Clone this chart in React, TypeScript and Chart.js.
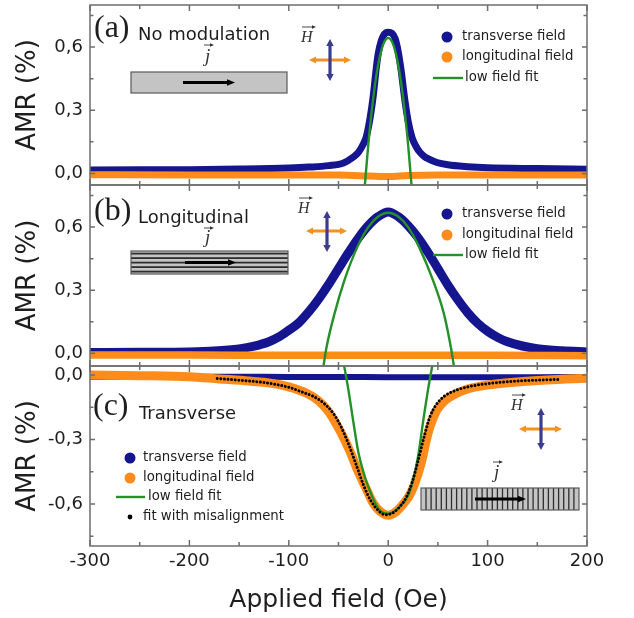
import React, { useEffect, useRef } from "react";
import { Chart, registerables } from "chart.js";
Chart.register(...registerables);

// ---------------- axis ticks / labels ----------------
const fieldTicks = [-300, -250, -200, -150, -100, -50, 0, 50, 100, 150, 200];
const fieldMajor = [-300, -200, -100, 0, 100, 200];
const amrTicksPos = [0, 0.15, 0.3, 0.45, 0.6, 0.75];
const amrLabelsPos = ["0,0", "", "0,3", "", "0,6", ""];
const amrTicksNeg = [-0.75, -0.6, -0.45, -0.3, -0.15, 0];
const amrLabelsNeg = ["", "-0,6", "", "-0,3", "", "0,0"];

// ---------------- (a) No modulation ----------------
const fieldA_T = [-300, -250, -200, -150, -100, -80, -60, -45, -35, -30, -25, -22, -18, -15, -12, -10, -7, -4, 0, 4, 7, 10, 13, 17, 20, 24, 28, 32, 36, 40, 49, 60, 80, 100, 150, 200];
const amrA_T = [0.016, 0.017, 0.018, 0.021, 0.026, 0.03, 0.037, 0.05, 0.078, 0.1, 0.14, 0.175, 0.27, 0.37, 0.5, 0.57, 0.63, 0.66, 0.67, 0.665, 0.64, 0.58, 0.49, 0.34, 0.25, 0.17, 0.128, 0.1, 0.082, 0.07, 0.052, 0.041, 0.032, 0.027, 0.023, 0.02];
const fieldA_L = [-300, -200, -100, -50, -20, 0, 20, 50, 100, 200];
const amrA_L = [-0.006, -0.007, -0.007, -0.008, -0.012, -0.015, -0.01, -0.007, -0.007, -0.007];
const fieldA_fit = [-24, -20, -16, -12, -8, -4, 0, 4, 8, 12, 16, 20, 24];
const amrA_fit = [-0.085, 0.138, 0.32, 0.462, 0.563, 0.624, 0.644, 0.624, 0.563, 0.462, 0.32, 0.138, -0.085];

// ---------------- (b) Longitudinal ----------------
const fieldB_T = [-300, -250, -200, -175, -150, -135, -120, -110, -100, -90, -80, -70, -60, -50, -40, -30, -20, -10, 0, 10, 20, 30, 40, 50, 60, 70, 80, 90, 100, 110, 120, 135, 150, 175, 200];
const amrB_T = [0.004, 0.005, 0.007, 0.011, 0.021, 0.034, 0.055, 0.078, 0.11, 0.145, 0.197, 0.258, 0.327, 0.403, 0.478, 0.548, 0.607, 0.65, 0.672, 0.65, 0.607, 0.55, 0.48, 0.403, 0.325, 0.255, 0.193, 0.143, 0.105, 0.076, 0.055, 0.035, 0.022, 0.012, 0.007];
const fieldB_L = [-300, -200, -100, 0, 100, 200];
const amrB_L = [-0.008, -0.008, -0.009, -0.009, -0.009, -0.011];
const fieldB_fit = [-65, -62, -54, -44, -31, -20, -10, 0, 10, 20, 31, 45, 56, 63, 66];
const amrB_fit = [-0.057, 0.03, 0.189, 0.348, 0.506, 0.6, 0.65, 0.668, 0.65, 0.6, 0.506, 0.348, 0.189, 0.03, -0.057];

// ---------------- (c) Transverse ----------------
const fieldC_T = [-300, -200, -150, -100, -50, 0, 50, 100, 150, 200];
const amrC_T = [-0.008, -0.008, -0.008, -0.009, -0.009, -0.01, -0.01, -0.01, -0.01, -0.009];
const fieldC_L = [-300, -250, -200, -170, -140, -115, -100, -82, -70, -60, -52, -45, -38, -31, -22, -15, -8, 0, 8, 15, 20, 25, 30, 34, 38, 42, 49, 58, 69, 80, 99, 130, 160, 200];
const amrC_L = [0.0, -0.003, -0.008, -0.018, -0.028, -0.04, -0.055, -0.085, -0.12, -0.17, -0.23, -0.29, -0.36, -0.44, -0.53, -0.597, -0.635, -0.652, -0.635, -0.6, -0.57, -0.525, -0.46, -0.395, -0.31, -0.24, -0.163, -0.115, -0.085, -0.065, -0.047, -0.032, -0.023, -0.015];
const fieldC_fit = [-45, -40, -35, -30, -25, -20, -10, 0, 10, 20, 25, 30, 35, 40, 45];
const amrC_fit = [0.06, -0.07, -0.22, -0.36, -0.45, -0.52, -0.62, -0.645, -0.62, -0.56, -0.49, -0.38, -0.22, -0.07, 0.06];
const fieldC_mis = [-172, -150, -130, -115, -100, -85, -75, -65, -55, -48, -40, -32, -25, -18, -10, -3, 5, 12, 18, 24, 30, 36, 42, 48, 56, 66, 80, 100, 130, 173];
const amrC_mis = [-0.016, -0.024, -0.032, -0.042, -0.057, -0.082, -0.1, -0.13, -0.18, -0.235, -0.32, -0.42, -0.51, -0.58, -0.63, -0.65, -0.64, -0.61, -0.57, -0.5, -0.4, -0.29, -0.194, -0.14, -0.1, -0.075, -0.055, -0.04, -0.028, -0.02];

// ---------------- styles ----------------
const W = 634;
const H = 618;
const PLOT_RIGHT = 587;
const BLUE = "#15158f";
const ORANGE = "#ff8c1a";
const GREEN = "#239028";
const ARROW_BLUE = "#3c3c8e";
const ARROW_ORANGE = "#f5921e";
const FRAME = "#6e6e6e";
const TEXT = "#1e1e1e";
const SANS = '"DejaVu Sans"';

const pts = (xs: number[], ys: number[]) => xs.map((x, i) => ({ x, y: ys[i] }));

function band(label: string, xs: number[], ys: number[], color: string, width: number) {
  return {
    label,
    data: pts(xs, ys),
    borderColor: color,
    backgroundColor: color,
    borderWidth: width,
    pointRadius: 0,
    fill: false,
    cubicInterpolationMode: "monotone",
    borderCapStyle: "round",
    borderJoinStyle: "round",
  };
}
function fitLine(label: string, xs: number[], ys: number[]) {
  return { ...band(label, xs, ys, GREEN, 2.4), borderCapStyle: "butt" };
}
function dotted(label: string, xs: number[], ys: number[]) {
  return { ...band(label, xs, ys, "#000", 3), borderDash: [0.01, 3.6], borderCapStyle: "round" };
}

// ---------------- drawing helpers ----------------
function arrowHead(ctx: CanvasRenderingContext2D, x: number, y: number, ang: number, len: number, wid: number) {
  ctx.beginPath();
  ctx.moveTo(x, y);
  ctx.lineTo(x - len * Math.cos(ang) + (wid / 2) * Math.sin(ang), y - len * Math.sin(ang) - (wid / 2) * Math.cos(ang));
  ctx.lineTo(x - len * Math.cos(ang) - (wid / 2) * Math.sin(ang), y - len * Math.sin(ang) + (wid / 2) * Math.cos(ang));
  ctx.closePath();
  ctx.fill();
}
function arrow(ctx: CanvasRenderingContext2D, x1: number, y1: number, x2: number, y2: number, color: string, lw: number, hl: number, hw: number, both: boolean) {
  const ang = Math.atan2(y2 - y1, x2 - x1);
  ctx.save();
  ctx.strokeStyle = color;
  ctx.fillStyle = color;
  ctx.lineWidth = lw;
  ctx.lineCap = "butt";
  const c = Math.cos(ang), s = Math.sin(ang);
  const sx = both ? x1 + c * hl * 0.7 : x1;
  const sy = both ? y1 + s * hl * 0.7 : y1;
  ctx.beginPath();
  ctx.moveTo(sx, sy);
  ctx.lineTo(x2 - c * hl * 0.7, y2 - s * hl * 0.7);
  ctx.stroke();
  arrowHead(ctx, x2, y2, ang, hl, hw);
  if (both) arrowHead(ctx, x1, y1, ang + Math.PI, hl, hw);
  ctx.restore();
}
function vecSymbol(ctx: CanvasRenderingContext2D, ch: string, x: number, baseline: number, size: number, ax1: number, ax2: number, ay: number) {
  ctx.save();
  ctx.font = `italic ${size}px "Liberation Serif"`;
  ctx.fillStyle = "#333";
  ctx.textAlign = "left";
  ctx.textBaseline = "alphabetic";
  ctx.fillText(ch, x, baseline);
  ctx.strokeStyle = "#333";
  ctx.lineWidth = 0.9;
  ctx.beginPath();
  ctx.moveTo(ax1, ay);
  ctx.lineTo(ax2 - 2, ay);
  ctx.stroke();
  ctx.fillStyle = "#333";
  arrowHead(ctx, ax2, ay, 0, 4, 3.4);
  ctx.restore();
}
function cross(ctx: CanvasRenderingContext2D, hx1: number, hx2: number, hy: number, vx: number, vy1: number, vy2: number) {
  arrow(ctx, hx1, hy, hx2, hy, ARROW_ORANGE, 2.8, 7, 7, true);
  arrow(ctx, vx, vy1, vx, vy2, ARROW_BLUE, 3.2, 7, 7.5, true);
}
function sample(ctx: CanvasRenderingContext2D, x: number, y: number, w: number, h: number, stripes: "none" | "h" | "v", ax1: number, ax2: number) {
  ctx.save();
  ctx.fillStyle = "#c4c4c4";
  ctx.fillRect(x, y, w, h);
  ctx.fillStyle = "#2e2e2e";
  if (stripes === "h") {
    for (let i = 0; i < 5; i++) ctx.fillRect(x, y + 2.6 + i * 4.5 - 0.9, w, 1.8);
  }
  if (stripes === "v") {
    for (let xx = x + 5; xx < x + w - 1; xx += 5.1) ctx.fillRect(xx - 0.65, y, 1.3, h);
  }
  ctx.strokeStyle = "#5a5a5a";
  ctx.lineWidth = 1.2;
  ctx.strokeRect(x, y, w, h);
  arrow(ctx, ax1, y + h / 2, ax2, y + h / 2, "#000", 3, 8, 6.5, false);
  ctx.restore();
}
function legendDot(ctx: CanvasRenderingContext2D, x: number, y: number, r: number, color: string) {
  ctx.beginPath();
  ctx.arc(x, y, r, 0, Math.PI * 2);
  ctx.fillStyle = color;
  ctx.fill();
}
function legendLine(ctx: CanvasRenderingContext2D, x1: number, x2: number, y: number) {
  ctx.strokeStyle = GREEN;
  ctx.lineWidth = 2.4;
  ctx.beginPath();
  ctx.moveTo(x1, y);
  ctx.lineTo(x2, y);
  ctx.stroke();
}
function label(ctx: CanvasRenderingContext2D, text: string, x: number, y: number, font: string, baseline: CanvasTextBaseline = "middle") {
  ctx.font = font;
  ctx.fillStyle = TEXT;
  ctx.textAlign = "left";
  ctx.textBaseline = baseline;
  ctx.fillText(text, x, y);
}
const LEG_FONT = `13.3px ${SANS}`;
const PANEL_FONT = `18px ${SANS}`;
const LETTER_FONT = `32px "Liberation Serif"`;

function decorA(ctx: CanvasRenderingContext2D) {
  label(ctx, "(a)", 94, 37, LETTER_FONT, "alphabetic");
  label(ctx, "No modulation", 138, 40, PANEL_FONT, "alphabetic");
  sample(ctx, 131, 72, 156, 21, "none", 183, 235);
  vecSymbol(ctx, "j", 205, 62, 19, 204, 214, 45);
  vecSymbol(ctx, "H", 301, 42, 16, 302, 316, 27);
  cross(ctx, 309, 351, 60, 330, 39, 81);
  legendDot(ctx, 447, 37, 5.5, BLUE);
  label(ctx, "transverse field", 462, 37, LEG_FONT);
  legendDot(ctx, 447, 57, 5.5, ORANGE);
  label(ctx, "longitudinal field", 462, 57, LEG_FONT);
  legendLine(ctx, 433, 463, 78);
  label(ctx, "low field fit", 465, 78, LEG_FONT);
}
function decorB(ctx: CanvasRenderingContext2D) {
  label(ctx, "(b)", 94, 220, LETTER_FONT, "alphabetic");
  label(ctx, "Longitudinal", 138, 223, PANEL_FONT, "alphabetic");
  sample(ctx, 131, 251, 157, 23, "h", 185, 236);
  vecSymbol(ctx, "j", 205, 243, 19, 204, 214, 228);
  vecSymbol(ctx, "H", 298, 213, 16, 299, 313, 198);
  cross(ctx, 306, 347, 231, 327, 211, 252);
  legendDot(ctx, 447, 214, 5.5, BLUE);
  label(ctx, "transverse field", 462, 214, LEG_FONT);
  legendDot(ctx, 447, 235, 5.5, ORANGE);
  label(ctx, "longitudinal field", 462, 235, LEG_FONT);
  legendLine(ctx, 433, 463, 255);
  label(ctx, "low field fit", 465, 255, LEG_FONT);
}
function decorC(ctx: CanvasRenderingContext2D) {
  label(ctx, "(c)", 93, 415, LETTER_FONT, "alphabetic");
  label(ctx, "Transverse", 139, 419, PANEL_FONT, "alphabetic");
  sample(ctx, 421, 488, 158, 22, "v", 475, 526);
  vecSymbol(ctx, "j", 494, 478, 19, 493, 503, 462);
  vecSymbol(ctx, "H", 511, 410, 16, 512, 526, 395);
  cross(ctx, 519, 562, 429, 541, 408, 450);
  legendDot(ctx, 130, 458, 5.5, BLUE);
  label(ctx, "transverse field", 143, 458, LEG_FONT);
  legendDot(ctx, 130, 478, 5.5, ORANGE);
  label(ctx, "longitudinal field", 143, 478, LEG_FONT);
  legendLine(ctx, 116, 145, 497);
  label(ctx, "low field fit", 148, 497, LEG_FONT);
  legendDot(ctx, 130, 517, 2.4, "#000");
  label(ctx, "fit with misalignment", 143, 517, LEG_FONT);
}

type Panel = {
  top: number;
  bottom: number;
  yMin: number;
  yMax: number;
  yTicks: number[];
  yLabels: string[];
  showX: boolean;
  datasets: any[];
  decor: (ctx: CanvasRenderingContext2D) => void;
};

const PANELS: Panel[] = [
  {
    top: 5, bottom: 185, yMin: -0.055, yMax: 0.8, yTicks: amrTicksPos, yLabels: amrLabelsPos, showX: false,
    datasets: [
      fitLine("low field fit", fieldA_fit, amrA_fit),
      band("longitudinal field", fieldA_L, amrA_L, ORANGE, 7),
      band("transverse field", fieldA_T, amrA_T, BLUE, 7),
    ],
    decor: decorA,
  },
  {
    top: 185, bottom: 366, yMin: -0.06, yMax: 0.8, yTicks: amrTicksPos, yLabels: amrLabelsPos, showX: false,
    datasets: [
      fitLine("low field fit", fieldB_fit, amrB_fit),
      band("longitudinal field", fieldB_L, amrB_L, ORANGE, 7.5),
      band("transverse field", fieldB_T, amrB_T, BLUE, 9),
    ],
    decor: decorB,
  },
  {
    top: 366, bottom: 546, yMin: -0.795, yMax: 0.042, yTicks: amrTicksNeg, yLabels: amrLabelsNeg, showX: true,
    datasets: [
      dotted("fit with misalignment", fieldC_mis, amrC_mis),
      fitLine("low field fit", fieldC_fit, amrC_fit),
      band("longitudinal field", fieldC_L, amrC_L, ORANGE, 9),
      band("transverse field", fieldC_T, amrC_T, BLUE, 6),
    ],
    decor: decorC,
  },
];

function makeChart(canvas: HTMLCanvasElement, p: Panel) {
  const decorPlugin = {
    id: "panelDecor",
    afterDraw(chart: any) {
      const ctx: CanvasRenderingContext2D = chart.ctx;
      const { left, right, top, bottom } = chart.chartArea;
      const xs = chart.scales.x;
      const ys = chart.scales.y;
      ctx.save();
      ctx.strokeStyle = FRAME;
      ctx.lineWidth = 1.5;
      ctx.beginPath();
      for (const v of fieldTicks) {
        const px = xs.getPixelForValue(v);
        const len = fieldMajor.includes(v) ? 6 : 4;
        ctx.moveTo(px, bottom);
        ctx.lineTo(px, bottom - len);
        ctx.moveTo(px, top);
        ctx.lineTo(px, top + len);
      }
      p.yTicks.forEach((v, i) => {
        const py = ys.getPixelForValue(v);
        const len = p.yLabels[i] ? 5 : 3.5;
        ctx.moveTo(left, py);
        ctx.lineTo(left + len, py);
        ctx.moveTo(right, py);
        ctx.lineTo(right - len, py);
      });
      ctx.stroke();
      ctx.strokeRect(left, top, right - left, bottom - top);
      p.decor(ctx);
      ctx.restore();
    },
  };

  return new Chart(canvas, {
    type: "line",
    data: { datasets: p.datasets },
    options: {
      animation: false,
      responsive: false,
      maintainAspectRatio: false,
      events: [],
      layout: { padding: { top: p.top, bottom: p.showX ? 0 : H - p.bottom, left: 0, right: W - PLOT_RIGHT } },
      plugins: { legend: { display: false }, tooltip: { enabled: false } },
      scales: {
        x: {
          type: "linear",
          min: -300,
          max: 200,
          display: p.showX,
          afterBuildTicks: (s: any) => {
            s.ticks = fieldMajor.map((value) => ({ value }));
          },
          ticks: {
            autoSkip: false,
            maxRotation: 0,
            padding: 5,
            color: TEXT,
            font: { family: SANS, size: 18 },
            callback: (v: any) => String(v),
          },
          grid: { display: false, drawTicks: false },
          border: { display: false },
          title: {
            display: true,
            text: "Applied field (Oe)",
            color: TEXT,
            font: { family: SANS, size: 25 },
            padding: { top: 0, bottom: 3 },
          },
          afterFit: (s: any) => {
            if (p.showX) {
              s.height = H - p.bottom;
            }
            s.paddingLeft = 0;
            s.paddingRight = 0;
          },
        },
        y: {
          type: "linear",
          position: "left",
          min: p.yMin,
          max: p.yMax,
          afterBuildTicks: (s: any) => {
            s.ticks = p.yTicks.map((value) => ({ value }));
          },
          ticks: {
            autoSkip: false,
            padding: 7,
            color: TEXT,
            font: { family: SANS, size: 18 },
            callback: (_v: any, i: number) => p.yLabels[i],
          },
          grid: { display: false, drawTicks: false },
          border: { display: false },
          title: {
            display: true,
            text: "AMR (%)",
            color: TEXT,
            font: { family: SANS, size: 26 },
            padding: { top: 13, bottom: 0 },
          },
          afterFit: (s: any) => {
            s.width = 90;
            s.paddingTop = 0;
            s.paddingBottom = 0;
          },
        },
      },
    } as any,
    plugins: [decorPlugin],
  } as any);
}

export default function App() {
  const r0 = useRef<HTMLCanvasElement>(null);
  const r1 = useRef<HTMLCanvasElement>(null);
  const r2 = useRef<HTMLCanvasElement>(null);
  useEffect(() => {
    const refs = [r0, r1, r2];
    const charts = PANELS.map((p, i) => makeChart(refs[i].current as HTMLCanvasElement, p));
    return () => charts.forEach((c) => c.destroy());
  }, []);
  const cs: React.CSSProperties = { position: "absolute", left: 0, top: 0, width: W, height: H };
  return (
    <div style={{ position: "absolute", left: 0, top: 0, width: W, height: H, background: "#fff", overflow: "hidden" }}>
      <canvas ref={r0} width={W} height={H} style={cs} />
      <canvas ref={r1} width={W} height={H} style={cs} />
      <canvas ref={r2} width={W} height={H} style={cs} />
    </div>
  );
}
